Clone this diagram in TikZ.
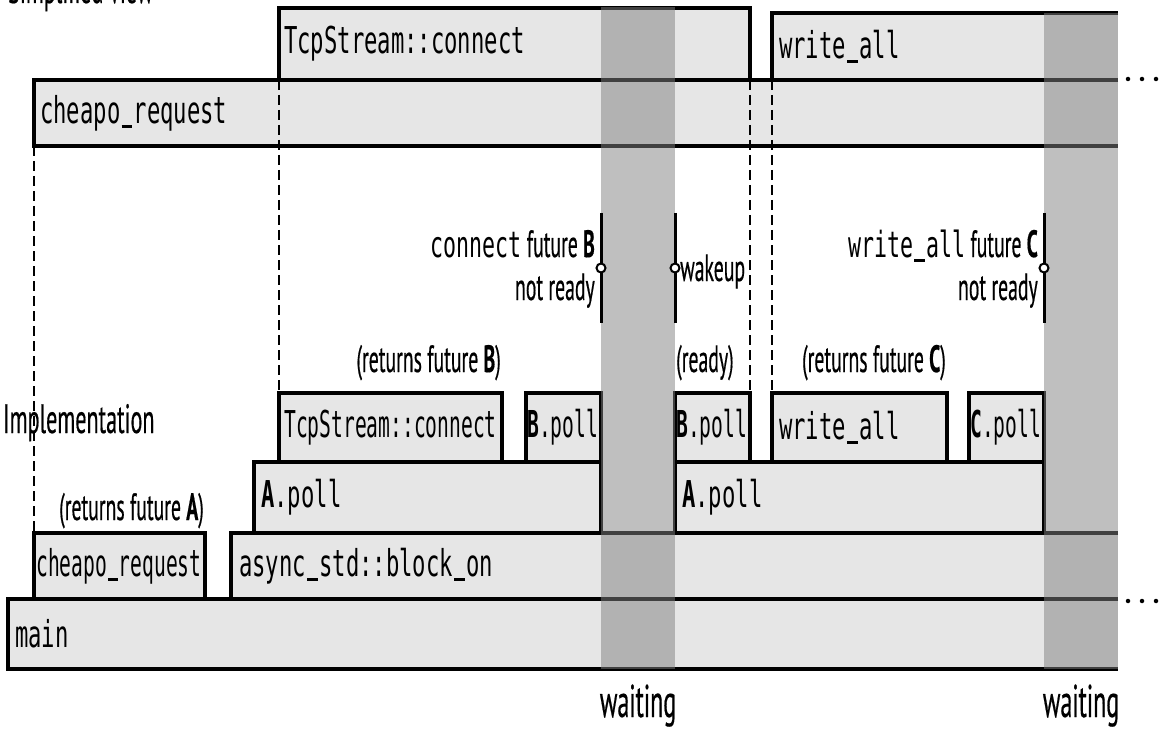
\documentclass[tikz,border=0pt]{standalone}
\usepackage{fontspec}
\newfontfamily\labfont[FakeStretch=0.52,FakeBold=0.4]{PT Sans}
\newfontfamily\biglabfont[FakeStretch=0.54,FakeBold=0.4]{PT Sans}
\newfontfamily\monow[FakeStretch=0.60]{DejaVu Sans Mono}
\newfontfamily\monon[FakeStretch=0.53]{DejaVu Sans Mono}
\newcommand{\us}{\makebox[\fontcharwd\font"5F][c]{\rule[-0.13em]{0.8\fontcharwd\font"5F}{0.08em}}}
\definecolor{boxgray}{RGB}{230,230,230}
\definecolor{shadegray}{RGB}{128,128,128}
\tikzset{
  fillbox/.style={fill=boxgray, draw=none, inner sep=0pt, outer sep=0pt, anchor=north west},
  fullbox/.style={fillbox, draw=black, line width=4.5pt},
  edge/.style={draw=black, line width=4.5pt},
  waitzone/.style={fill=shadegray, fill opacity=0.5, draw=none, inner sep=0pt, outer sep=0pt, anchor=north west},
  guide/.style={draw=black, line width=1.4pt, dash pattern=on 10pt off 5pt},
  marker/.style={draw=black, line width=3pt},
  dotmark/.style={circle, fill=white, draw=black, line width=2pt, inner sep=0pt, minimum size=9pt},
  mt/.style={font=\monow\fontsize{37}{40}\selectfont, inner sep=0pt, anchor=west},
  mtn/.style={font=\monon\fontsize{37}{40}\selectfont, inner sep=0pt, anchor=west},
  lab/.style={font=\labfont\fontsize{38}{42}\selectfont, inner sep=0pt},
  biglab/.style={font=\biglabfont\fontsize{41}{45}\selectfont, inner sep=0pt},
  waitlab/.style={font=\labfont\fontsize{46}{50}\selectfont, inner sep=0pt, anchor=base},
  ell/.style={circle, fill=black, inner sep=0pt, minimum size=4.5pt}
}
\begin{document}
\begin{tikzpicture}[x=1pt, y=-1pt]
\useasboundingbox (0,0) rectangle (1159,730);

% ---------- simplified view ----------
\node[biglab, anchor=base west] (simp) at (8,3) {Simplified view};

\node[fullbox, minimum width=471pt, minimum height=72pt] (tcp0) at (279,8) {};
\node[fillbox, minimum width=346pt, minimum height=67pt] (wa0) at (772,13) {};
\draw[edge] (wa0.north east) -- (wa0.north west) -- (wa0.south west);
\node[fillbox, minimum width=1084pt, minimum height=66pt] (cr0) at (34,80) {};
\draw[edge] (cr0.north east) -- (cr0.north west) -- (cr0.south west) -- (cr0.south east);

\node[mt] (t-tcp0) at ([xshift=5pt]tcp0.west) {TcpStream::connect};
\node[mt] (t-wa0) at ([xshift=7pt]wa0.west) {write\us all};
\node[mt] (t-cr0) at ([xshift=6pt]cr0.west) {cheapo\us request};

% ---------- implementation ----------
\node[fillbox, minimum width=1110pt, minimum height=70pt] (mainb) at (8,599) {};
\draw[edge] (mainb.north east) -- (mainb.north west) -- (mainb.south west) -- (mainb.south east);
\node[fullbox, minimum width=171pt, minimum height=66pt] (cr1) at (34,533) {};
\node[fillbox, minimum width=887pt, minimum height=66pt] (blk) at (231,533) {};
\draw[edge] (blk.north east) -- (blk.north west) -- (blk.south west) -- (blk.south east);
\node[fullbox, minimum width=347pt, minimum height=71pt] (ap1) at (254,462) {};
\node[fullbox, minimum width=369pt, minimum height=71pt] (ap2) at (675,462) {};
\node[fullbox, minimum width=223pt, minimum height=69pt] (tcp1) at (279,393) {};
\node[fullbox, minimum width=75pt, minimum height=69pt] (bp1) at (526,393) {};
\node[fullbox, minimum width=75pt, minimum height=69pt] (bp2) at (675,393) {};
\node[fullbox, minimum width=175pt, minimum height=69pt] (wa1) at (772,393) {};
\node[fullbox, minimum width=75pt, minimum height=69pt] (cp1) at (969,393) {};

\node[mt] (t-main) at ([xshift=7pt]mainb.west) {main};
\node[mtn] (t-cr1) at ([xshift=2pt]cr1.west) {cheapo\us request};
\node[mt] (t-blk) at ([xshift=8pt]blk.west) {async\us std::block\us on};
\node[mt] (t-ap1) at ([xshift=7pt]ap1.west) {{\bfseries A}.poll};
\node[mt] (t-ap2) at ([xshift=7pt]ap2.west) {{\bfseries A}.poll};
\node[mtn] (t-tcp1) at ([xshift=5pt]tcp1.west) {TcpStream::connect};
\node[mtn] (t-bp1) at ([xshift=1pt]bp1.west) {{\bfseries B}.poll};
\node[mtn] (t-bp2) at ([xshift=1pt]bp2.west) {{\bfseries B}.poll};
\node[mt] (t-wa1) at ([xshift=7pt]wa1.west) {write\us all};
\node[mtn] (t-cp1) at ([xshift=1pt]cp1.west) {{\bfseries C}.poll};

% ---------- guides ----------
\draw[guide] (cr0.south west) -- (cr1.north west);
\draw[guide] (tcp0.south west) -- (tcp1.north west);
\draw[guide] (tcp0.south east) -- (bp2.north east);
\draw[guide] (wa0.south west) -- (wa1.north west);

% ---------- waiting zones ----------
\node[waitzone, minimum width=74pt, minimum height=662pt] (w1) at (601,7) {};
\node[waitzone, minimum width=74pt, minimum height=656pt] (w2) at (1044,13) {};
\node[waitlab] (t-w1) at (638,717) {waiting};
\node[waitlab] (t-w2) at (1081,717) {waiting};

% ---------- event markers ----------
\coordinate (mB1) at (601,213); \coordinate (mB2) at (601,323);
\coordinate (mW1) at (675,213); \coordinate (mW2) at (675,323);
\coordinate (mC1) at (1044,213); \coordinate (mC2) at (1044,323);
\draw[marker] (mB1) -- (mB2);
\draw[marker] (mW1) -- (mW2);
\draw[marker] (mC1) -- (mC2);
\node[dotmark] (dB) at (601,268) {};
\node[dotmark] (dW) at (675,268) {};
\node[dotmark] (dC) at (1044,268) {};

\node[lab, anchor=base east] (t-cB) at (595,257) {{\monow\fontsize{36}{40}\selectfont connect} future \textbf{B}};
\node[lab, anchor=base east] (t-nrB) at (595,300) {not ready};
\node[lab, anchor=base west] (t-wk) at (680,281) {wakeup};
\node[lab, anchor=base east] (t-cC) at (1038,257) {{\monow\fontsize{36}{40}\selectfont write\us all} future \textbf{C}};
\node[lab, anchor=base east] (t-nrC) at (1038,300) {not ready};

% ---------- return labels ----------
\node[lab, anchor=base east] (rB) at (501,372) {(returns future \textbf{B})};
\node[lab, anchor=base west] (rR) at (676,372) {(ready)};
\node[lab, anchor=base east] (rC) at (946,372) {(returns future \textbf{C})};
\node[lab, anchor=base east] (rA) at (204,520) {(returns future \textbf{A})};
\node[biglab, anchor=base west] (impl) at (3,433) {Implementation};

% ---------- continuation dots ----------
\node[ell] (e1) at (1128,79) {}; \node[ell] (e2) at (1142,79) {}; \node[ell] (e3) at (1156,79) {};
\node[ell] (f1) at (1128,601) {}; \node[ell] (f2) at (1142,601) {}; \node[ell] (f3) at (1156,601) {};
\end{tikzpicture}
\end{document}
